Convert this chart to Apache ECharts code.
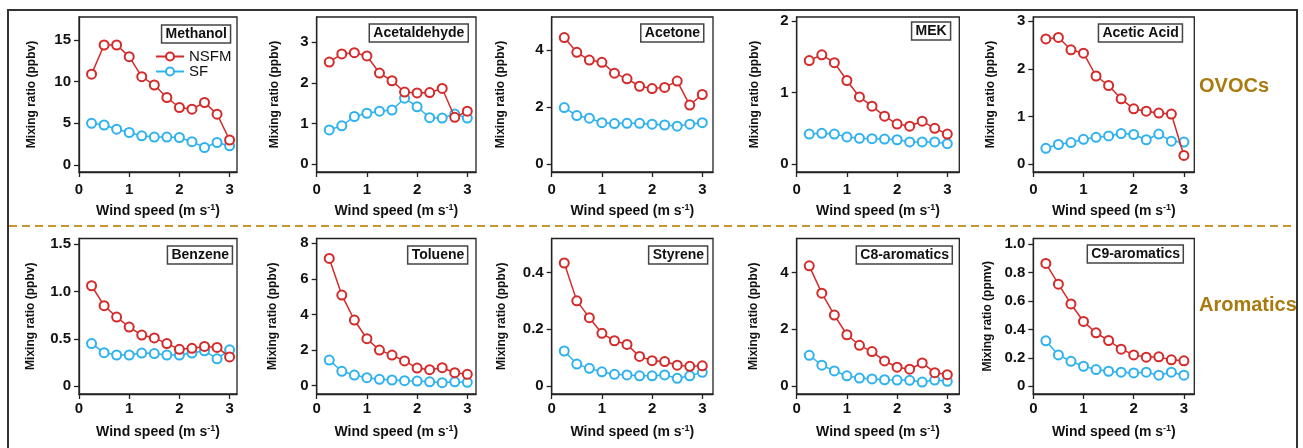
<!DOCTYPE html>
<html>
<head>
<meta charset="utf-8">
<script src="https://cdn.jsdelivr.net/npm/echarts@6/dist/echarts.min.js"></script>
<style>
html,body{margin:0;padding:0;background:#fff;}
#chart{width:1303px;height:448px;}
</style>
</head>
<body>
<div id="chart"></div>
<script>
// ---------- data ----------
const windSpeed = [0.25, 0.5, 0.75, 1.0, 1.25, 1.5, 1.75, 2.0, 2.25, 2.5, 2.75, 3.0];
const xTicks = [0, 1, 2, 3];
const seriesNames = ['NSFM', 'SF'];
const compounds = ['Methanol', 'Acetaldehyde', 'Acetone', 'MEK', 'Acetic Acid',
                   'Benzene', 'Toluene', 'Styrene', 'C8-aromatics', 'C9-aromatics'];
const yTitles = ['Mixing ratio (ppbv)', 'Mixing ratio (ppbv)', 'Mixing ratio (ppbv)', 'Mixing ratio (ppbv)', 'Mixing ratio (ppbv)',
                 'Mixing ratio (ppbv)', 'Mixing ratio (ppbv)', 'Mixing ratio (ppbv)', 'Mixing ratio (ppbv)', 'Mixing ratio (ppmv)'];
const groupLabels = ['OVOCs', 'Aromatics'];

const methanolNSFM = [10.9, 14.4, 14.4, 13.0, 10.6, 9.6, 8.1, 6.9, 6.7, 7.5, 6.1, 3.0];
const methanolSF   = [5.0, 4.8, 4.3, 3.9, 3.5, 3.35, 3.35, 3.3, 2.8, 2.1, 2.7, 2.3];
const acetaldehydeNSFM = [2.51, 2.71, 2.74, 2.66, 2.24, 2.05, 1.77, 1.75, 1.76, 1.86, 1.15, 1.30];
const acetaldehydeSF   = [0.84, 0.94, 1.17, 1.25, 1.30, 1.33, 1.62, 1.41, 1.14, 1.13, 1.23, 1.13];
const acetoneNSFM = [4.44, 3.92, 3.65, 3.57, 3.19, 2.99, 2.73, 2.65, 2.69, 2.91, 2.07, 2.44];
const acetoneSF   = [1.98, 1.70, 1.61, 1.45, 1.42, 1.43, 1.43, 1.40, 1.37, 1.33, 1.40, 1.45];
const mekNSFM = [1.45, 1.53, 1.42, 1.17, 0.94, 0.81, 0.67, 0.56, 0.53, 0.60, 0.50, 0.42];
const mekSF   = [0.42, 0.43, 0.42, 0.38, 0.36, 0.355, 0.35, 0.34, 0.31, 0.31, 0.31, 0.285];
const aceticAcidNSFM = [2.63, 2.66, 2.40, 2.33, 1.85, 1.65, 1.37, 1.16, 1.11, 1.07, 1.05, 0.18];
const aceticAcidSF   = [0.33, 0.41, 0.45, 0.52, 0.56, 0.59, 0.64, 0.62, 0.51, 0.63, 0.48, 0.46];
const benzeneNSFM = [1.06, 0.85, 0.73, 0.625, 0.54, 0.51, 0.45, 0.39, 0.40, 0.42, 0.41, 0.31];
const benzeneSF   = [0.45, 0.355, 0.33, 0.33, 0.35, 0.345, 0.33, 0.33, 0.35, 0.375, 0.29, 0.385];
const tolueneNSFM = [7.15, 5.09, 3.69, 2.64, 2.0, 1.72, 1.39, 0.99, 0.90, 1.01, 0.73, 0.64];
const tolueneSF   = [1.44, 0.81, 0.60, 0.45, 0.36, 0.32, 0.28, 0.26, 0.22, 0.17, 0.22, 0.19];
const styreneNSFM = [0.433, 0.30, 0.241, 0.186, 0.16, 0.147, 0.105, 0.09, 0.087, 0.074, 0.07, 0.072];
const styreneSF   = [0.124, 0.078, 0.063, 0.051, 0.042, 0.04, 0.037, 0.037, 0.04, 0.028, 0.037, 0.049];
const c8NSFM = [4.23, 3.27, 2.50, 1.81, 1.44, 1.22, 0.89, 0.67, 0.60, 0.82, 0.48, 0.41];
const c8SF   = [1.09, 0.74, 0.54, 0.37, 0.29, 0.26, 0.23, 0.22, 0.21, 0.15, 0.22, 0.175];
const c9NSFM = [0.864, 0.718, 0.579, 0.456, 0.376, 0.322, 0.261, 0.221, 0.205, 0.207, 0.186, 0.179];
const c9SF   = [0.32, 0.221, 0.176, 0.141, 0.118, 0.106, 0.099, 0.094, 0.099, 0.078, 0.099, 0.078];

const nsfmData = [methanolNSFM, acetaldehydeNSFM, acetoneNSFM, mekNSFM, aceticAcidNSFM,
                  benzeneNSFM, tolueneNSFM, styreneNSFM, c8NSFM, c9NSFM];
const sfData = [methanolSF, acetaldehydeSF, acetoneSF, mekSF, aceticAcidSF,
                benzeneSF, tolueneSF, styreneSF, c8SF, c9SF];

const yTickValues = [
  [0, 5, 10, 15], [0, 1, 2, 3], [0, 2, 4], [0, 1, 2], [0, 1, 2, 3],
  [0, 0.5, 1.0, 1.5], [0, 2, 4, 6, 8], [0, 0.2, 0.4], [0, 2, 4], [0, 0.2, 0.4, 0.6, 0.8, 1.0]
];
const yTickLabels = [
  ['0', '5', '10', '15'], ['0', '1', '2', '3'], ['0', '2', '4'], ['0', '1', '2'], ['0', '1', '2', '3'],
  ['0', '0.5', '1.0', '1.5'], ['0', '2', '4', '6', '8'], ['0', '0.2', '0.4'], ['0', '2', '4'],
  ['0', '0.2', '0.4', '0.6', '0.8', '1.0']
];
const xTickLabels = ['0', '1', '2', '3'];

// ---------- layout / style ----------
const FONT = '"Liberation Sans", Arial, sans-serif';
const RED = '#d42a2a';
const BLUE = '#2fb2ee';
const GOLD = '#a97a0f';

const colLeft  = [79, 316.7, 551.7, 796.7, 1033.3];
const colWidth = [158, 159.3, 161.3, 162.6, 161];
const pxPerX   = 50.2;
const rowTop    = [17, 238.5];
const rowHeight = [155, 155.5];
const yRange = [
  [-0.84, 17.76], [-0.197, 3.62], [-0.28, 5.16], [-0.112, 2.06], [-0.168, 3.09],
  [-0.081, 1.558], [-0.466, 8.27], [-0.027, 0.519], [-0.27, 5.19], [-0.054, 1.039]
];
const yNameGap = [41.5, 36, 45, 36, 37, 42.5, 38, 44, 37, 40];
const boxRight = [231, 468.3, 704, 950.7, 1182.7, 233, 468.3, 708, 953, 1184];
const boxTop   = [25, 24, 24, 22, 24, 246, 246, 246, 246, 245];
const xLabelMargin = [10, 7];
const xNameGap = [31, 30];

const grids = [], xAxes = [], yAxes = [], series = [], titles = [];
compounds.forEach((name, i) => {
  const r = Math.floor(i / 5), c = i % 5;
  grids.push({
    left: colLeft[c], top: rowTop[r], width: colWidth[c], height: rowHeight[r],
    show: true, borderColor: '#222', borderWidth: 1.3, backgroundColor: 'transparent'
  });
  xAxes.push({
    type: 'value', gridIndex: i, min: 0, max: colWidth[c] / pxPerX,
    axisLine: { show: true, onZero: false, lineStyle: { color: '#222', width: 1.3 } },
    axisTick: { show: true, length: 5, customValues: xTicks, lineStyle: { color: '#222', width: 1.3 } },
    axisLabel: {
      customValues: xTicks, margin: xLabelMargin[r], color: '#111',
      fontFamily: FONT, fontSize: 15, fontWeight: 'bold',
      formatter: v => xTickLabels[xTicks.indexOf(v)]
    },
    splitLine: { show: false },
    name: '{n|Wind speed (m s}{s|-1}{n|)}',
    nameLocation: 'middle', nameGap: xNameGap[r],
    nameTextStyle: {
      rich: {
        n: { fontFamily: FONT, fontSize: 14, fontWeight: 'bold', color: '#111', lineHeight: 16 },
        s: { fontFamily: FONT, fontSize: 9, fontWeight: 'bold', color: '#111', verticalAlign: 'top', lineHeight: 16 }
      }
    }
  });
  const tv = yTickValues[i], tl = yTickLabels[i];
  yAxes.push({
    type: 'value', gridIndex: i, min: yRange[i][0], max: yRange[i][1],
    axisLine: { show: true, onZero: false, lineStyle: { color: '#222', width: 1.3 } },
    axisTick: { show: true, length: 5, customValues: tv, lineStyle: { color: '#222', width: 1.3 } },
    axisLabel: {
      customValues: tv, margin: 8, color: '#111',
      fontFamily: FONT, fontSize: 15, fontWeight: 'bold',
      formatter: v => tl[tv.indexOf(v)]
    },
    splitLine: { show: false },
    name: yTitles[i], nameLocation: 'middle', nameRotate: 90, nameGap: yNameGap[i],
    nameTextStyle: { fontFamily: FONT, fontSize: 12, fontWeight: 'bold', color: '#111' }
  });
  series.push({
    name: seriesNames[0], type: 'line', xAxisIndex: i, yAxisIndex: i,
    data: windSpeed.map((x, k) => [x, nsfmData[i][k]]),
    symbol: 'emptyCircle', symbolSize: 9,
    lineStyle: { color: RED, width: 1.5 },
    itemStyle: { color: RED, borderWidth: 1.5 },
    z: 3
  });
  series.push({
    name: seriesNames[1], type: 'line', xAxisIndex: i, yAxisIndex: i,
    data: windSpeed.map((x, k) => [x, sfData[i][k]]),
    symbol: 'emptyCircle', symbolSize: 9,
    lineStyle: { color: BLUE, width: 1.5 },
    itemStyle: { color: BLUE, borderWidth: 1.5 },
    z: 2
  });
  titles.push({
    text: name, right: 1303 - boxRight[i], top: boxTop[i],
    padding: [2, 4, 1, 4], borderColor: '#444', borderWidth: 1.5,
    textStyle: { fontFamily: FONT, fontSize: 14, fontWeight: 'bold', color: '#111', lineHeight: 15 }
  });
});

const option = {
  animation: false,
  backgroundColor: '#fff',
  title: titles,
  grid: grids,
  xAxis: xAxes,
  yAxis: yAxes,
  series: series,
  legend: {
    data: seriesNames, orient: 'vertical', left: 150, top: 44,
    itemWidth: 28, itemHeight: 10, itemGap: 0,
    textStyle: { fontFamily: FONT, fontSize: 15, color: '#111', padding: [0, 0, 0, 0] }
  },
  graphic: [
    { type: 'rect', shape: { x: 8, y: 10, width: 1289, height: 460 },
      style: { fill: 'none', stroke: '#333', lineWidth: 2 }, silent: true },
    { type: 'line', shape: { x1: 9, y1: 226, x2: 1296, y2: 226 },
      style: { stroke: '#c8962e', lineWidth: 2, lineDash: [8, 5] }, silent: true },
    { type: 'text', left: 1199, top: 76,
      style: { text: groupLabels[0], fill: GOLD, font: 'bold 20px ' + FONT } },
    { type: 'text', left: 1199, top: 295,
      style: { text: groupLabels[1], fill: GOLD, font: 'bold 20px ' + FONT } }
  ]
};

const chart = echarts.init(document.getElementById('chart'), null, { renderer: 'canvas' });
chart.setOption(option);
</script>
</body>
</html>
